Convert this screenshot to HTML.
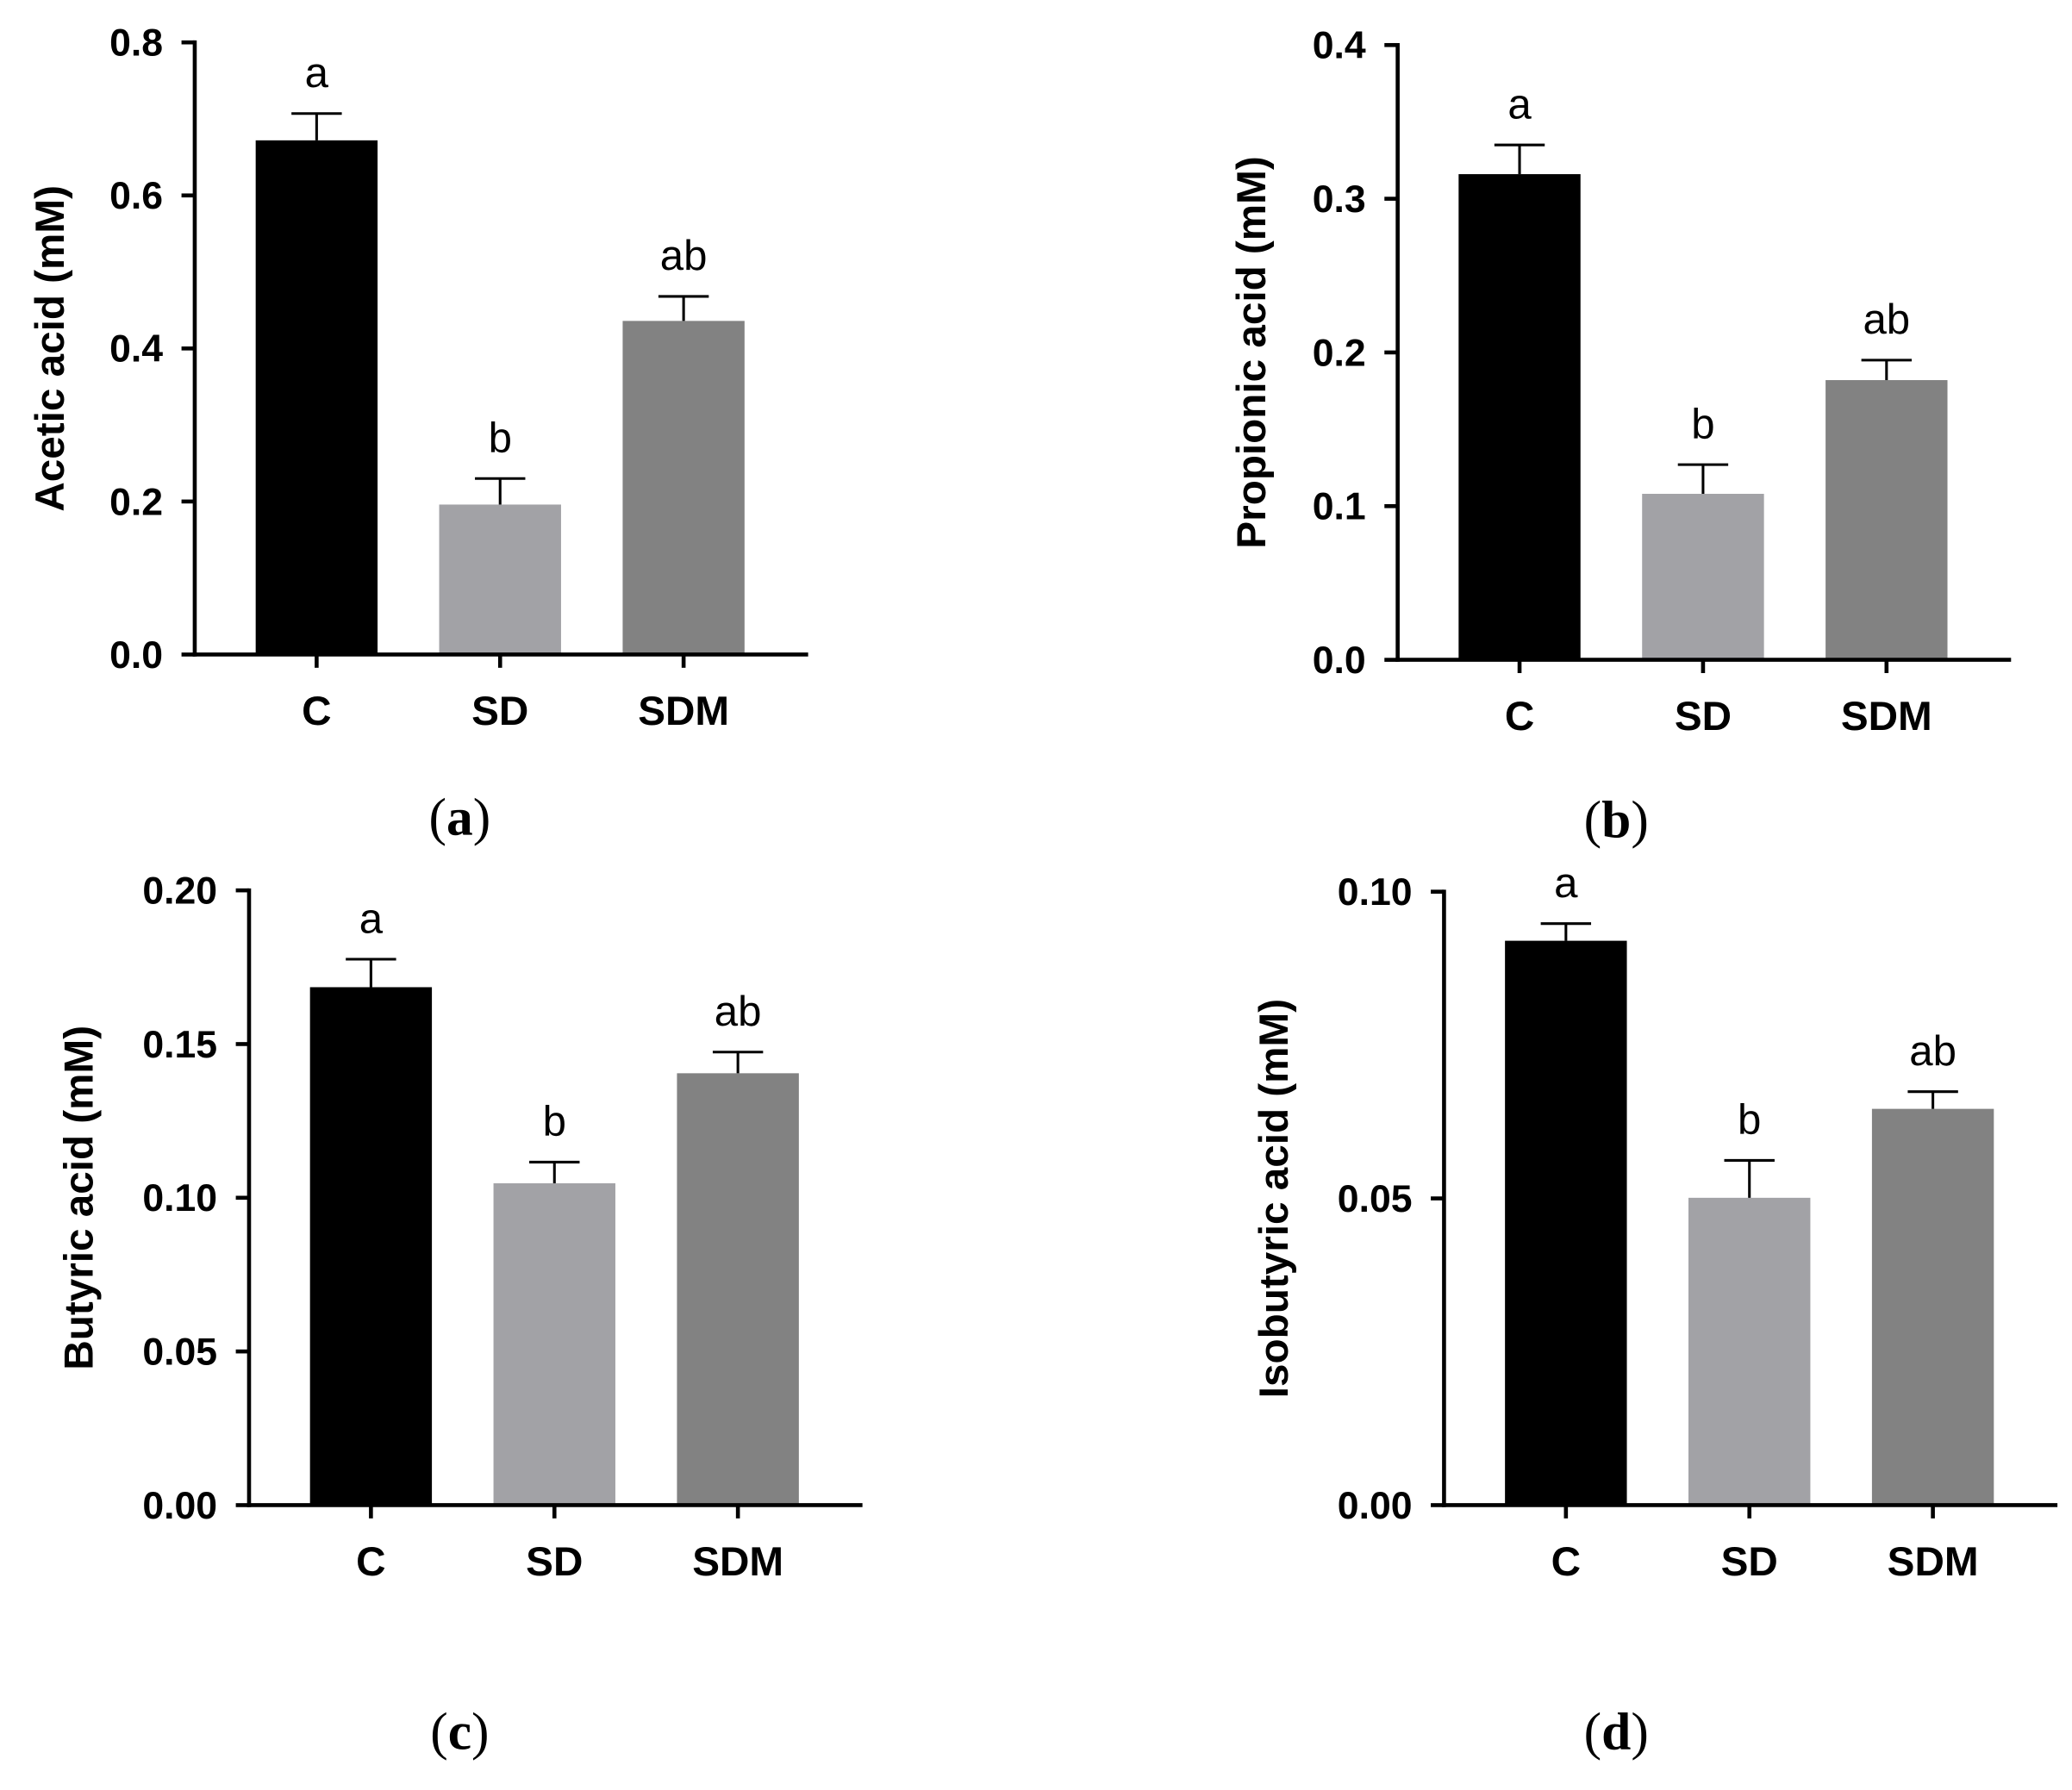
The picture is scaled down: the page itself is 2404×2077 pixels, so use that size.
<!DOCTYPE html>
<html><head><meta charset="utf-8"><style>
html,body{margin:0;padding:0;background:#fff;}
svg{display:block;}
</style></head><body>
<svg id="fig" width="2404" height="2077" viewBox="0 0 1564 1351" preserveAspectRatio="none" xmlns="http://www.w3.org/2000/svg"></svg>
<script>
const categories = ["C", "SD", "SDM"];
const sigLetters = ["a", "b", "ab"];
const aceticValues = [0.672, 0.196, 0.436];
const aceticErrors = [0.035, 0.034, 0.032];
const propionicValues = [0.316, 0.108, 0.182];
const propionicErrors = [0.019, 0.019, 0.013];
const butyricValues = [0.1685, 0.1047, 0.1405];
const butyricErrors = [0.0091, 0.0069, 0.0069];
const isobutyricValues = [0.092, 0.0501, 0.0646];
const isobutyricErrors = [0.0028, 0.0061, 0.0028];
const aceticTicks = ["0.0", "0.2", "0.4", "0.6", "0.8"];
const propionicTicks = ["0.0", "0.1", "0.2", "0.3", "0.4"];
const butyricTicks = ["0.00", "0.05", "0.10", "0.15", "0.20"];
const isobutyricTicks = ["0.00", "0.05", "0.10"];

const NS = "http://www.w3.org/2000/svg";
const svg = document.getElementById("fig");
const barColors = ["#000000", "#a2a2a6", "#828282"];

function mk(tag, attrs, parent) {
  const e = document.createElementNS(NS, tag);
  for (const k in attrs) e.setAttribute(k, attrs[k]);
  (parent || svg).appendChild(e);
  return e;
}

function panel(id, ax, y0, y1, ymax, ticks, values, errors, title, titleX, caption, capX, capY) {
  const g = mk("g", {});
  
  
  const yS = v => y0 - (v / ymax) * (y0 - y1);
  const barW = 92, step = 138.5, first = ax + 46;
  const xRight = ax + 463;
  values.forEach((v, i) => {
    const bx = first + i * step;
    const r = mk("rect", {x: bx, y: yS(v), width: barW, height: y0 - yS(v), fill: barColors[i]}, g);
    
    
    const cx = bx + barW / 2, et = yS(v + errors[i]);
    const e1 = mk("line", {x1: cx, x2: cx, y1: yS(v), y2: et, stroke: "#000", "stroke-width": 2}, g);
    
    
    mk("line", {x1: cx - 19, x2: cx + 19, y1: et, y2: et, stroke: "#000", "stroke-width": 2}, g);
    const t = mk("text", {x: cx, y: et - 20, "text-anchor": "middle", "font-family": "Liberation Sans, sans-serif", "font-size": 32, fill: "#000"}, g);
    t.textContent = sigLetters[i];
    
    
    mk("line", {x1: cx, x2: cx, y1: y0, y2: y0 + 10, stroke: "#000", "stroke-width": 3}, g);
    const c = mk("text", {x: cx, y: y0 + 53, "text-anchor": "middle", "font-family": "Liberation Sans, sans-serif", "font-weight": "bold", "font-size": 31, fill: "#000"}, g);
    c.textContent = categories[i];
    
    
  });
  const ya = mk("line", {x1: ax, x2: ax, y1: y1 - 1.5, y2: y0 + 1.5, stroke: "#000", "stroke-width": 3}, g);
  
  
  const xa = mk("line", {x1: ax - 1.5, x2: xRight, y1: y0, y2: y0, stroke: "#000", "stroke-width": 3}, g);
  
  
  const n = ticks.length - 1;
  ticks.forEach((lab, i) => {
    const ty = yS(ymax * i / n);
    mk("line", {x1: ax - 10, x2: ax, y1: ty, y2: ty, stroke: "#000", "stroke-width": 3}, g);
    const t = mk("text", {x: ax - 24, y: ty + 10, "text-anchor": "end", "font-family": "Liberation Sans, sans-serif", "font-weight": "bold", "font-size": 29, fill: "#000"}, g);
    t.textContent = lab;
    
    
  });
  const my = (y0 + y1) / 2;
  const tt = mk("text", {x: titleX, y: my, "text-anchor": "middle", "font-family": "Liberation Sans, sans-serif", "font-weight": "bold", "font-size": 31, fill: "#000", transform: "rotate(-90 " + titleX + " " + my + ")"}, g);
  tt.textContent = title;
  
  
  const cap = mk("text", {x: capX, y: capY, "text-anchor": "middle", "font-family": "Liberation Serif, serif", "font-size": 40, fill: "#000"}, g);
  
  
  const s1 = mk("tspan", {}, cap); s1.textContent = "(";
  const s2 = mk("tspan", {"font-weight": "bold"}, cap); s2.textContent = caption;
  const s3 = mk("tspan", {}, cap); s3.textContent = ")";
}

panel("a", 147, 494, 32, 0.8, aceticTicks, aceticValues, aceticErrors, "Acetic acid (mM)", 48, "a", 347, 630);
panel("b", 1055, 498, 34, 0.4, propionicTicks, propionicValues, propionicErrors, "Propionic acid (mM)", 955, "b", 1220, 632);
panel("c", 188, 1136, 672, 0.2, butyricTicks, butyricValues, butyricErrors, "Butyric acid (mM)", 70, "c", 347, 1320);
panel("d", 1090, 1136, 673, 0.1, isobutyricTicks, isobutyricValues, isobutyricErrors, "Isobutyric acid (mM)", 972, "d", 1220, 1320);
</script>
</body></html>
